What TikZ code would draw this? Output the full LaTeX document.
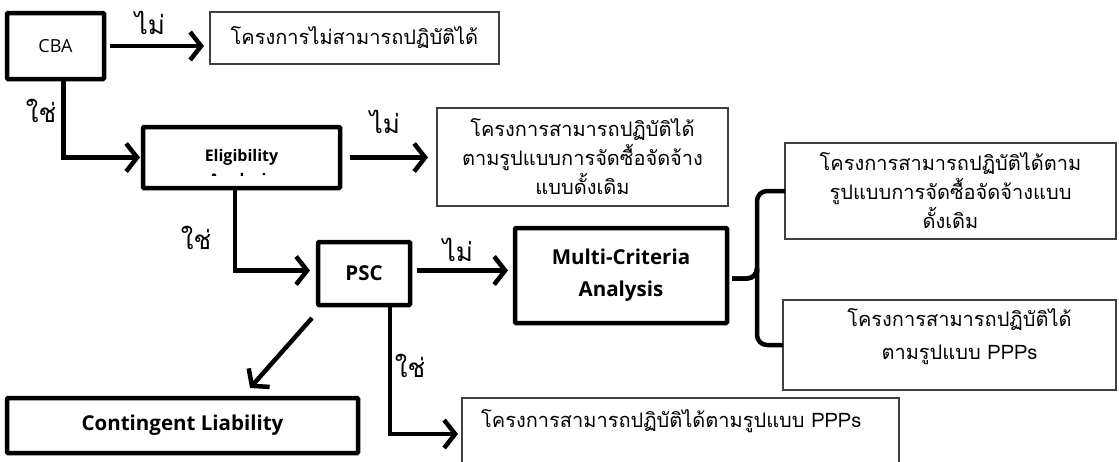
\documentclass[tikz,border=0pt]{standalone}
\usepackage{fontspec}
\setmainfont{Open Sans}
\newfontfamily\thai[Script=Thai]{Loma}
\usetikzlibrary{arrows.meta}
\begin{document}
\begin{tikzpicture}[x=1pt,y=-1pt,
  thickbox/.style={draw, line width=4.5pt, inner sep=0pt, outer sep=0pt, anchor=north west, align=center, rounded corners=1pt},
  thinbox/.style={draw=black!75, line width=1.3pt, inner sep=0pt, outer sep=0pt, anchor=north west, align=center, font=\thai\fontsize{20}{29}\selectfont},
  thaitxt/.style={font=\thai\fontsize{20}{29}\selectfont, inner sep=0pt},
  arr/.style={line width=4.5pt, -{Straight Barb[length=11pt,width=28pt]}},
  lbl/.style={font=\thai\fontsize{26}{28}\selectfont, inner sep=0pt},
  engb/.style={font=\bfseries\fontsize{20.5}{32}\selectfont},
  brace/.style={line width=4.5pt, rounded corners=10pt}]
\useasboundingbox (0,0) rectangle (1119,461);
% boxes
\node[thickbox, minimum width=97pt, minimum height=66pt, font=\fontsize{18}{20}\selectfont] (cba) at (7,13) {CBA};
\node[thinbox, minimum width=289pt, minimum height=52pt] (b1) at (210,12) {โครงการไม่สามารถปฏิบัติได้};
\node[thickbox, minimum width=197pt, minimum height=61pt] (elig) at (143,127) {};
\begin{scope}
  \clip (143,127) rectangle (340,175);
  \node[font=\bfseries\fontsize{16}{20}\selectfont, anchor=base, inner sep=0pt] (eligtxt) at (241.5,161) {Eligibility};
  \node[font=\bfseries\fontsize{16}{20}\selectfont, anchor=base, inner sep=0pt] (eligtxt2) at (241.5,185.5) {Analysis};
\end{scope}
\node[thinbox, minimum width=291pt, minimum height=98pt] (b2) at (437,108) {โครงการสามารถปฏิบัติได้\\ตามรูปแบบการจัดซื้อจัดจ้าง\\แบบดั้งเดิม};
\node[thickbox, minimum width=92pt, minimum height=63pt, engb] (psc) at (318,242) {PSC};
\node[thickbox, minimum width=212pt, minimum height=95pt, engb] (mca) at (515,228) {Multi-Criteria\\Analysis};
\node[thinbox, minimum width=331pt, minimum height=96pt] (b3) at (785,143) {โครงการสามารถปฏิบัติได้ตาม\\รูปแบบการจัดซื้อจัดจ้างแบบ\\ดั้งเดิม};
\node[thinbox, minimum width=333pt, minimum height=90pt] (b4) at (783,300) {};
\node[thaitxt, font=\thai\fontsize{20}{33}\selectfont, align=center, anchor=north] (b4txt) at ([xshift=10pt,yshift=-8pt]b4.north) {โครงการสามารถปฏิบัติได้\\ตามรูปแบบ PPPs};
\node[thinbox, minimum width=437pt, minimum height=70pt] (b5) at (462,398) {};
\node[thaitxt, anchor=west] (b5txt) at ([xshift=19pt,yshift=-23pt]b5.north west) {โครงการสามารถปฏิบัติได้ตามรูปแบบ PPPs};
\node[thickbox, minimum width=351pt, minimum height=55pt, engb] (cont) at (7,398) {Contingent Liability};
% labels
\node[lbl] (l1) at (150,23) {ไม่};
\node[lbl] (l2) at (41,111) {ใช่};
\node[lbl] (l3) at (385,122) {ไม่};
\node[lbl] (l4) at (196,238) {ใช่};
\node[lbl] (l5) at (458,250) {ไม่};
\node[lbl] (l6) at (410,366) {ใช่};
% connectors
\draw[arr, shorten <=6pt, shorten >=6pt] (cba.east) -- (cba.east -| b1.west);
\draw[arr, shorten >=3pt] ([xshift=8pt]cba.south) |- (elig.west);
\draw[arr, shorten <=10pt, shorten >=9pt] (elig.east) -- (elig.east -| b2.west);
\draw[arr, shorten >=8pt] ([xshift=-6.5pt]elig.south) |- ([yshift=3pt]psc.west);
\draw[arr, shorten <=7pt, shorten >=7pt] ([yshift=3pt]psc.east) -- ([yshift=3pt]psc.east -| mca.west);
\draw[arr, shorten >=4pt] ([xshift=26pt]psc.south) |- ([yshift=-1pt]b5.west);
\draw[arr] ([xshift=-6pt,yshift=-13pt]psc.south west) -- ([xshift=243pt,yshift=10pt]cont.north west);
% bracket
\draw[brace] (b3.west) -| ([xshift=30pt,yshift=-3pt]mca.east) |- ([xshift=5pt,yshift=-3pt]mca.east);
\draw[brace] (b4.west) -| ([xshift=30pt,yshift=-3pt]mca.east) |- ([xshift=5pt,yshift=-3pt]mca.east);
\end{tikzpicture}
\end{document}
